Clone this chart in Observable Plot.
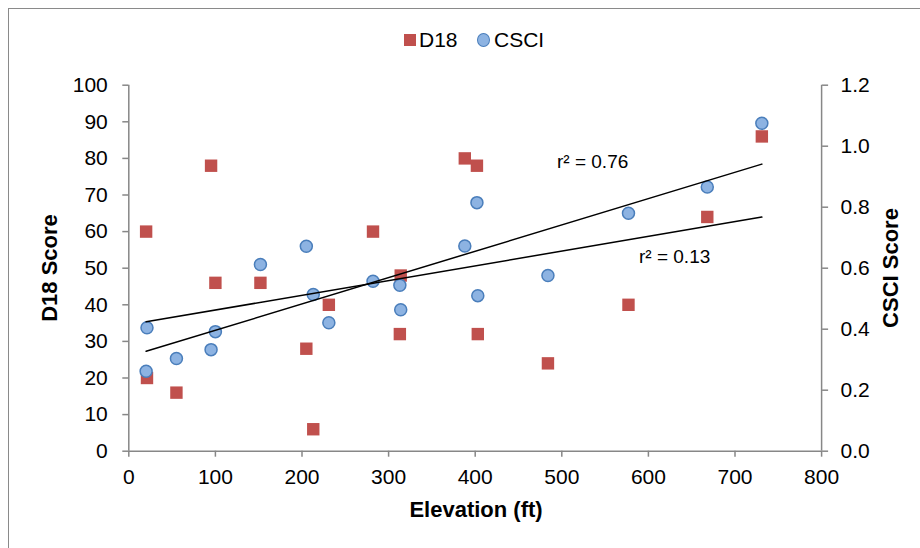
<!DOCTYPE html>
<html>
<head>
<meta charset="utf-8">
<script src="https://cdn.jsdelivr.net/npm/d3@7"></script>
<script src="https://cdn.jsdelivr.net/npm/@observablehq/plot@0.6"></script>
<style>
  html, body { margin: 0; padding: 0; background: #fff; }
  #wrap { position: relative; width: 920px; height: 548px; overflow: hidden; background: #fff;
          font-family: "Liberation Sans", Arial, sans-serif; color: #000; }
  #frame { position: absolute; left: 8px; top: 8px; width: 940px; height: 580px; border: 1px solid #8a8a8a; box-sizing: border-box; }
  #chart { position: absolute; left: 0; top: 0; }
  .abs { position: absolute; white-space: nowrap; }
  .title { font-weight: bold; font-size: 22px; line-height: 22px; }
  .leg { font-size: 21px; line-height: 21px; }
  .r2 { font-size: 19px; line-height: 19px; }
</style>
</head>
<body>
<div id="wrap">
  <div id="frame"></div>
  <div id="chart"></div>
  <!-- legend -->
  <div class="abs" style="left:404px;top:34px;width:12px;height:12px;background:#c0504d;"></div>
  <div class="abs leg" style="left:419px;top:29px;">D18</div>
  <div class="abs" style="left:477px;top:33px;width:11px;height:12px;border-radius:50%;background:#8db3e2;border:1px solid #4a7ebb;"></div>
  <div class="abs leg" style="left:494px;top:29px;">CSCI</div>
  <!-- axis titles -->
  <div class="abs title" style="left:50px;top:268px;transform:translate(-50%,-50%) rotate(-90deg);">D18 Score</div>
  <div class="abs title" style="left:891px;top:268px;transform:translate(-50%,-50%) rotate(-90deg);">CSCI Score</div>
  <div class="abs title" style="left:476px;top:510px;transform:translate(-50%,-50%);">Elevation (ft)</div>
  <!-- r² annotations -->
  <div class="abs r2" style="left:557px;top:152px;">r² = 0.76</div>
  <div class="abs r2" style="left:639px;top:247px;">r² = 0.13</div>
</div>
<script>
// ---- data ----
const elevation = [20, 21, 55, 95, 100, 152, 205, 213, 231, 282, 313, 314, 388, 402, 403, 484, 577, 668, 731];
const d18 =       [60, 20, 16, 78, 46, 46, 28, 6, 40, 60, 32, 48, 80, 78, 32, 24, 40, 64, 86];
const csci =      [0.262, 0.405, 0.304, 0.333, 0.392, 0.612, 0.672, 0.514, 0.421, 0.557, 0.544, 0.464, 0.673, 0.815, 0.510, 0.576, 0.780, 0.866, 1.075];

const xTicks = [0, 100, 200, 300, 400, 500, 600, 700, 800];
const d18Ticks = [0, 10, 20, 30, 40, 50, 60, 70, 80, 90, 100];
const csciTicks = [0, 0.2, 0.4, 0.6, 0.8, 1.0, 1.2];
const csciMax = 1.2, d18Max = 100;

// map CSCI (right axis) onto the left-axis scale
const toLeft = v => v * d18Max / csciMax;

const rows = elevation.map((e, i) => ({elev: e, d18: d18[i], csci: csci[i], csciL: toLeft(csci[i])}));

const axisGray = "#878787";

const chart = Plot.plot({
  width: 920,
  height: 548,
  marginLeft: 128.3,
  marginRight: 98.9,
  marginTop: 84.7,
  marginBottom: 97.3,
  style: {fontFamily: "'Liberation Sans', Arial, sans-serif", fontSize: "21px", background: "transparent", color: "#000"},
  x: {domain: [0, 800]},
  y: {domain: [0, 100]},
  marks: [
    Plot.ruleY([0], {stroke: axisGray, strokeWidth: 1.5}),
    Plot.ruleX([0], {stroke: axisGray, strokeWidth: 1.5}),
    Plot.ruleX([800], {stroke: axisGray, strokeWidth: 1.5}),
    Plot.axisX({ticks: xTicks, tickSize: 6, tickPadding: 12, stroke: axisGray, strokeWidth: 1.5, fill: "#000", label: null, tickFormat: d => String(d)}),
    Plot.axisY({anchor: "left", ticks: d18Ticks, tickSize: 6, tickPadding: 15, stroke: axisGray, strokeWidth: 1.5, fill: "#000", label: null, tickFormat: d => String(d)}),
    Plot.axisY({anchor: "right", ticks: csciTicks.map(toLeft), tickSize: 6, tickPadding: 13, stroke: axisGray, strokeWidth: 1.5, fill: "#000", label: null,
                tickFormat: d => (d * csciMax / d18Max).toFixed(1)}),
    Plot.dot(rows, {x: "elev", y: "d18", symbol: "square", r: 7, fill: "#c0504d", stroke: "none"}),
    Plot.dot(rows, {x: "elev", y: "csciL", symbol: "circle", r: 6, fill: "#8db3e2", stroke: "#4a7ebb", strokeWidth: 1.5}),
    Plot.linearRegressionY(rows, {x: "elev", y: "d18", ci: 0, stroke: "#000", strokeWidth: 1.5}),
    Plot.linearRegressionY(rows, {x: "elev", y: "csciL", ci: 0, stroke: "#000", strokeWidth: 1.5})
  ]
});
document.getElementById("chart").appendChild(chart);
</script>
</body>
</html>
